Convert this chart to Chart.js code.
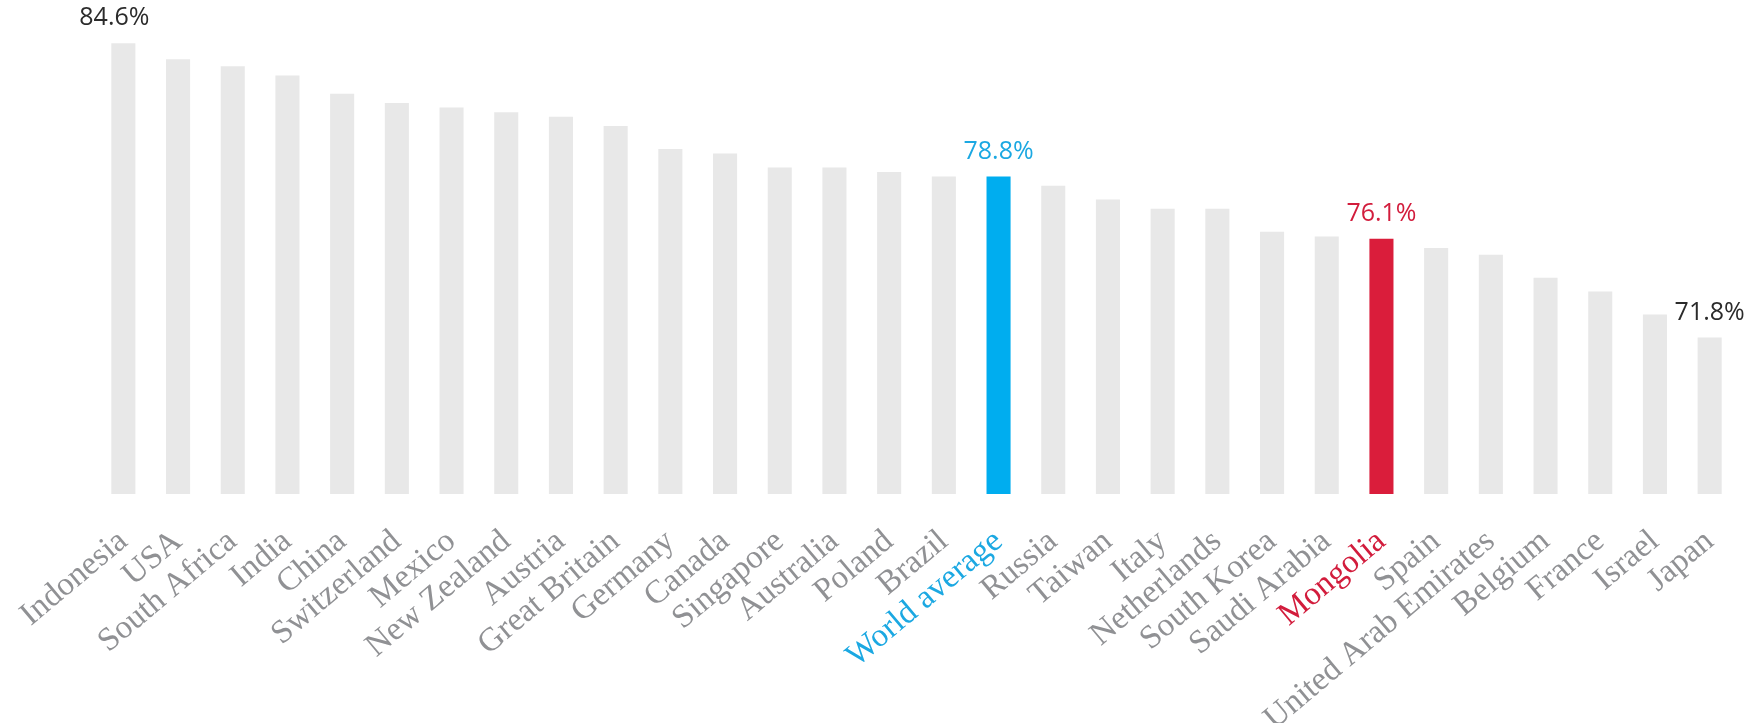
<!DOCTYPE html>
<html>
<head>
<meta charset="utf-8">
<script src="https://cdn.jsdelivr.net/npm/chart.js@4.4.0/dist/chart.umd.min.js"></script>
<style>
  html, body { margin: 0; padding: 0; background: #ffffff; }
</style>
</head>
<body>
<canvas id="myChart" width="1760" height="723"></canvas>
<script>
// countries, sorted from highest to lowest share
const countries = [
    'Indonesia', 'USA', 'South Africa', 'India', 'China', 'Switzerland', 'Mexico',
    'New Zealand', 'Austria', 'Great Britain', 'Germany', 'Canada', 'Singapore',
    'Australia', 'Poland', 'Brazil', 'World average', 'Russia', 'Taiwan', 'Italy',
    'Netherlands', 'South Korea', 'Saudi Arabia', 'Mongolia', 'Spain',
    'United Arab Emirates', 'Belgium', 'France', 'Israel', 'Japan'
];

// share in percent for each country above
const shares = [
    84.6, 83.9, 83.6, 83.2, 82.4, 82.0, 81.8,
    81.6, 81.4, 81.0, 80.0, 79.8, 79.2,
    79.2, 79.0, 78.8, 78.8, 78.4, 77.8, 77.4,
    77.4, 76.4, 76.2, 76.1, 75.7,
    75.4, 74.4, 73.8, 72.8, 71.8
];

// only these bars get their value written on top
const valueLabels = ['Indonesia', 'World average', 'Mongolia', 'Japan'];

const axisMin = 65;
const axisMax = 85;

// colours
const barGrey = '#e8e8e8';
const labelGrey = '#909194';
const valueDark = '#2b2b2b';
const highlight = { 'World average': '#00adef', 'Mongolia': '#da1d3b' };
const highlightText = { 'World average': '#1ba8e2', 'Mongolia': '#d21c3c' };

const barColor = (i) => highlight[countries[i]] || barGrey;

// writes "xx.x%" above the chosen bars
const valueLabelPlugin = {
    id: 'valueLabels',
    afterDatasetsDraw: (chart) => {
        const ctx = chart.ctx;
        const bars = chart.getDatasetMeta(0).data;
        ctx.save();
        ctx.font = '25px "Open Sans"';
        ctx.textAlign = 'center';
        ctx.textBaseline = 'alphabetic';
        bars.forEach((bar, i) => {
            if (!valueLabels.includes(countries[i])) return;
            // first label sits a little to the left so it stays near the edge
            const shift = i === 0 ? -9 : 0;
            ctx.fillStyle = highlightText[countries[i]] || valueDark;
            ctx.fillText(shares[i].toFixed(1) + '%', bar.x + shift, bar.y - 18);
        });
        ctx.restore();
    }
};

const ctx = document.getElementById('myChart');

new Chart(ctx, {
    type: 'bar',
    data: {
        labels: countries,
        datasets: [{
            data: shares,
            backgroundColor: countries.map((c, i) => barColor(i)),
            borderWidth: 0,
            barPercentage: 0.44,
            categoryPercentage: 1
        }]
    },
    options: {
        responsive: false,
        animation: false,
        events: [],
        layout: {
            padding: { left: 96, right: 23, top: 34, bottom: 0 }
        },
        plugins: {
            legend: { display: false },
            tooltip: { enabled: false }
        },
        scales: {
            x: {
                grid: { display: false, drawTicks: false },
                border: { display: false },
                ticks: {
                    autoSkip: false,
                    minRotation: 40,
                    maxRotation: 40,
                    padding: 28,
                    font: { family: '"Liberation Serif"', size: 33 },
                    color: (c) => highlightText[countries[c.index]] || labelGrey
                },
                // fixed axis height, and no extra side room for the slanted labels
                afterFit: (scale) => {
                    scale.height = 229;
                    scale.paddingLeft = 0;
                    scale.paddingRight = 0;
                }
            },
            y: {
                display: false,
                min: axisMin,
                max: axisMax
            }
        }
    },
    plugins: [valueLabelPlugin]
});
</script>
</body>
</html>
